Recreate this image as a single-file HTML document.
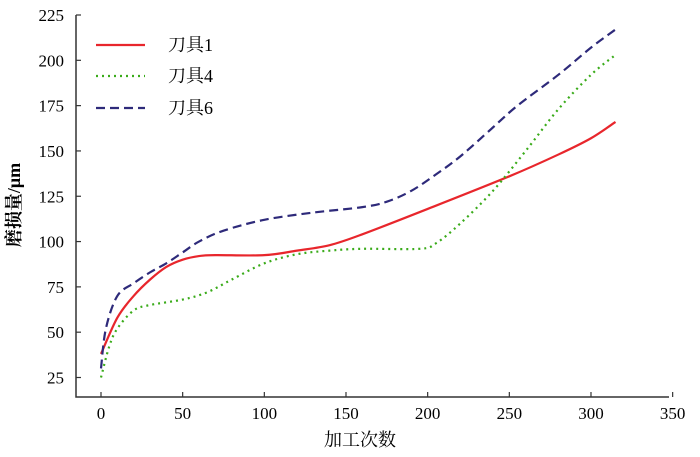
<!DOCTYPE html>
<html><head><meta charset="utf-8"><style>
body{margin:0;background:#fff}
svg{display:block;font-family:"Liberation Serif","Noto Serif CJK SC",serif}
</style></head><body>
<svg width="700" height="457" viewBox="0 0 700 457">
<g id="axes"></g>
<g id="series"></g>
<g id="legend"></g>
<text x="360" y="446" font-size="18" text-anchor="middle">加工次数</text>
<text x="0" y="0" font-size="18" font-weight="bold" text-anchor="middle" transform="translate(20,205) rotate(-90)">磨损量/μm</text>
</svg>
<script>
const xTicks=[0,50,100,150,200,250,300,350];
const yTicks=[25,50,75,100,125,150,175,200,225];
const names=["刀具1","刀具4","刀具6"];
const tool1X=[0,10,20,30,40,50,60,70,100,120,140,160,200,250,280,300,315];
const tool1Y=[38,58,70,79,86,90,92,92.5,92.5,95,98,104,118,136,148,157,166];
const tool4X=[0,5,10,20,30,50,65,80,100,120,140,160,195,205,220,240,260,280,300,315];
const tool4Y=[25,42,52,62,65,68,72,79,88,93,95,96,96,99,110,128,150,173,192,203];
const tool6X=[0,3,10,20,30,40,50,60,75,100,130,160,175,190,205,220,240,255,280,300,315];
const tool6Y=[30,52,70,77,83,88,94,100,106,112,116,119,122,128,137,147,163,175,192,207,217];
const NS="http://www.w3.org/2000/svg";
const xs=v=>101+v*1.6333;
const ys=v=>377.5-(v-25)*1.8125;
function mk(tag,attrs,parent,text){const e=document.createElementNS(NS,tag);for(const k in attrs)e.setAttribute(k,attrs[k]);if(text!==undefined)e.textContent=text;parent.appendChild(e);return e;}
const axes=document.getElementById('axes');
let e=mk('path',{d:'M76,15 V397 H669',fill:'none',stroke:'#333','stroke-width':1.5},axes);


xTicks.forEach(t=>{
 let l=mk('line',{x1:xs(t),x2:xs(t),y1:397,y2:392,stroke:'#333','stroke-width':1.2},axes);
 
 
 let tx=mk('text',{x:xs(t),y:419,'font-size':17,'text-anchor':'middle'},axes,t);
 
 
});
yTicks.forEach(t=>{
 let l=mk('line',{x1:76,x2:81,y1:ys(t),y2:ys(t),stroke:'#333','stroke-width':1.2},axes);
 
 
 let tx=mk('text',{x:64,y:ys(t)+6,'font-size':17,'text-anchor':'end'},axes,t);
 
 
});
const styles=[{c:'#e8262c',d:'',w:2.2},{c:'#3aab1a',d:'2,4',w:2.2},{c:'#2e2a7a',d:'9,5',w:2.2}];
const data=[[tool1X,tool1Y],[tool4X,tool4Y],[tool6X,tool6Y]];
const series=document.getElementById('series');
function smooth(px,py){
 let d=`M${px[0]},${py[0]}`;
 for(let i=0;i<px.length-1;i++){
  const x0=px[Math.max(i-1,0)],y0=py[Math.max(i-1,0)],x1=px[i],y1=py[i],x2=px[i+1],y2=py[i+1],x3=px[Math.min(i+2,px.length-1)],y3=py[Math.min(i+2,px.length-1)];
  d+=` C${x1+(x2-x0)/6},${y1+(y2-y0)/6} ${x2-(x3-x1)/6},${y2-(y3-y1)/6} ${x2},${y2}`;
 }
 return d;
}
data.forEach((s,i)=>{
 const p=mk('path',{d:smooth(s[0].map(xs),s[1].map(ys)),fill:'none',stroke:styles[i].c,'stroke-width':styles[i].w,'stroke-dasharray':styles[i].d},series);
 
 
});
const legend=document.getElementById('legend');
[45,76,108].forEach((y,i)=>{
 const g=mk('g',{},legend);
 
 
 mk('line',{x1:96,x2:145,y1:y,y2:y,stroke:styles[i].c,'stroke-width':2.2,'stroke-dasharray':styles[i].d},g);
 mk('text',{x:168,y:y+6,'font-size':18},g,names[i]);
});
</script>
</body></html>
